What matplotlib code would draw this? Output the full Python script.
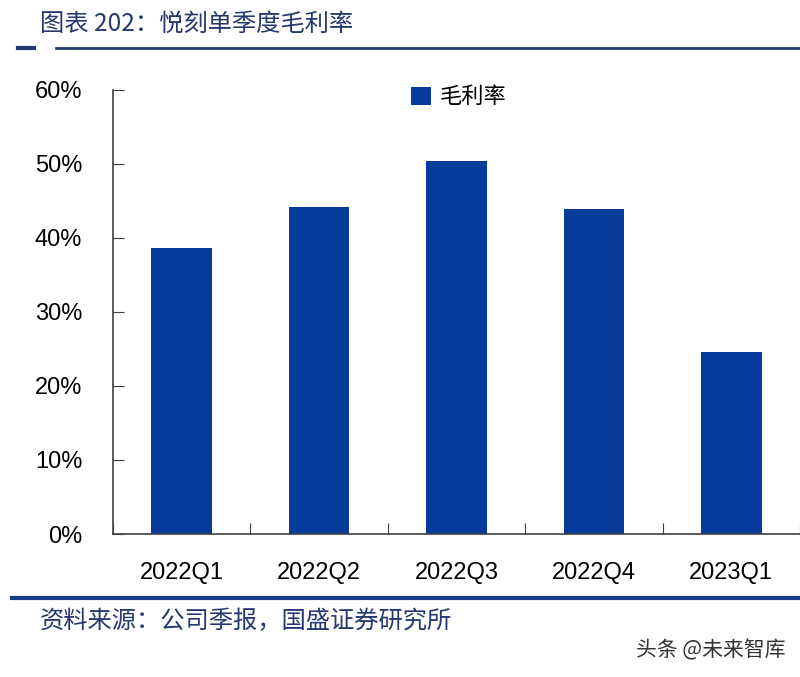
import numpy as np
import matplotlib.pyplot as plt
from matplotlib.ticker import FixedLocator, PercentFormatter

# 数据
quarters = ['2022Q1', '2022Q2', '2022Q3', '2022Q4', '2023Q1']
gross_margin = [38.6, 44.2, 50.4, 43.9, 24.6]  # %

title = '图表 202：悦刻单季度毛利率'
source = '资料来源：公司季报，国盛证券研究所'
watermark = '头条 @未来智库'

cjk = ['Noto Sans CJK SC', 'DejaVu Sans']
navy = '#22386e'
bar_color = '#063a9b'

fig = plt.figure(figsize=(8, 6.77), dpi=100)
ax = fig.add_axes([0.141, 0.2112, 0.859, 0.656])

x = np.arange(len(quarters))
ax.bar(x, gross_margin, width=0.44, color=bar_color, label='毛利率', zorder=2)

ax.set_xlim(-0.5, len(quarters) - 0.5)
ax.set_ylim(0, 60)
ax.yaxis.set_major_locator(FixedLocator(np.arange(0, 61, 10)))
ax.yaxis.set_major_formatter(PercentFormatter(decimals=0))

# x 轴刻度在类别之间, 标签在中间
ax.set_xticks(np.arange(-0.5, len(quarters), 1.0))
ax.set_xticklabels([])
ax.set_xticks(x, minor=True)
ax.set_xticklabels(quarters, minor=True, fontsize=17, family='Liberation Sans')
ax.tick_params(axis='x', which='minor', length=0, pad=20)
ax.tick_params(axis='x', which='major', direction='in', length=8, color='#404040')
ax.tick_params(axis='y', direction='in', length=8, color='#404040', pad=22)
for lab in ax.get_yticklabels():
    lab.set_fontsize(17)
    lab.set_family('Liberation Sans')

for s in ['top', 'right']:
    ax.spines[s].set_visible(False)
for s in ['left', 'bottom']:
    ax.spines[s].set_color('#404040')
    ax.spines[s].set_linewidth(1.2)

leg = ax.legend(loc='upper left', bbox_to_anchor=(0.405, 1.055), frameon=False,
                handlelength=0.9, handleheight=0.9, handletextpad=0.4,
                prop={'family': cjk, 'size': 16})

# 标题和来源
fig.text(0.05, 0.965, title, fontsize=17.5, color=navy,
         family=cjk, va='center')
fig.add_artist(plt.Line2D([0.07, 1.0], [0.929, 0.929], color=navy, lw=2))
fig.add_artist(plt.Line2D([0.022, 0.042], [0.929, 0.929], color=navy, lw=3))
fig.add_artist(plt.Line2D([0.015, 1.0], [0.117, 0.117], color='#1a3a8a', lw=3))
fig.text(0.05, 0.082, source, fontsize=17.5, color=navy,
         family=cjk, va='center')
fig.text(0.982, 0.04, watermark, fontsize=15, color='#333333',
         family=cjk, ha='right', va='center')

fig.savefig('out.png', dpi=100)
